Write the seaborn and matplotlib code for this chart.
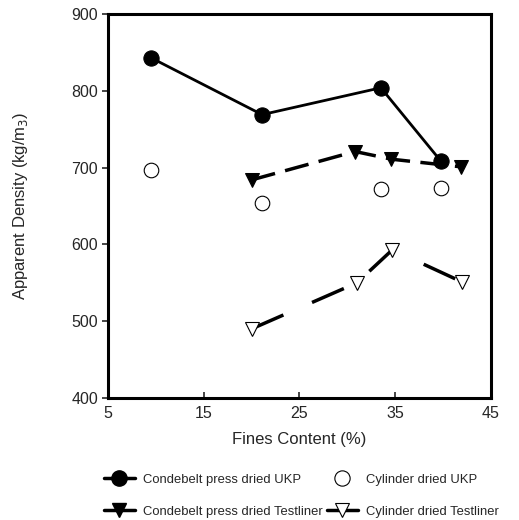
import matplotlib
matplotlib.use("Agg")
import matplotlib.pyplot as plt
import seaborn as sns
import pandas as pd
from matplotlib.lines import Line2D

sns.set_theme(style="white")
plt.rcParams['font.family'] = ['Liberation Sans', 'DejaVu Sans']

cb_ukp_x = [9.5, 21.1, 33.5, 39.8]
cb_ukp_y = [843, 769, 804, 708]
cy_ukp_x = [9.5, 21.1, 33.5, 39.8]
cy_ukp_y = [697, 654, 672, 674]
cb_tl_x = [20.0, 30.8, 34.6, 41.9]
cb_tl_y = [684, 721, 711, 701]
cy_tl_x = [20.0, 31.0, 34.7, 42.0]
cy_tl_y = [490, 550, 593, 551]

labels = ["Condebelt press dried UKP", "Cylinder dried UKP",
          "Condebelt press dried Testliner", "Cylinder dried Testliner"]
xticks = [5, 15, 25, 35, 45]
yticks = [400, 500, 600, 700, 800, 900]

fig = plt.figure(figsize=(5.19, 5.20), dpi=100)
ax = fig.add_axes([0.208, 0.2346, 0.738, 0.7384])

df1 = pd.DataFrame({"x": cb_ukp_x, "y": cb_ukp_y})
df2 = pd.DataFrame({"x": cy_ukp_x, "y": cy_ukp_y})
df3 = pd.DataFrame({"x": cb_tl_x, "y": cb_tl_y})
df4 = pd.DataFrame({"x": cy_tl_x, "y": cy_tl_y})

sns.lineplot(data=df1, x="x", y="y", ax=ax, color="black", lw=2, marker="o",
             markersize=11, markeredgecolor="black", sort=False, estimator=None)
sns.scatterplot(data=df2, x="x", y="y", ax=ax, marker="o", s=110,
                facecolor="white", edgecolor="black", linewidth=0.8, zorder=3)
sns.lineplot(data=df3, x="x", y="y", ax=ax, color="black", lw=2.5, marker="v",
             markersize=10, markeredgecolor="black", sort=False, estimator=None,
             dashes=(7, 3))
sns.lineplot(data=df4, x="x", y="y", ax=ax, color="black", lw=2.5, marker="v",
             markersize=10, markerfacecolor="white", markeredgecolor="black",
             markeredgewidth=0.8, sort=False, estimator=None, dashes=(10, 9))

ax.set_xlim(5, 45)
ax.set_ylim(400, 900)
ax.set_xticks(xticks)
ax.set_yticks(yticks)
ax.set_xticklabels([str(v) for v in xticks], fontsize=11.5)
ax.set_yticklabels([str(v) for v in yticks], fontsize=11.5)
ax.tick_params(axis="y", direction="out", length=4, width=1.2, left=True, pad=3)
ax.tick_params(axis="x", direction="in", length=4, width=1.2, bottom=True, pad=6)
for sp in ax.spines.values():
    sp.set_color("black")
    sp.set_linewidth(2.2)
ax.set_xlabel("Fines Content (%)", fontsize=12, labelpad=8)
ax.set_ylabel("Apparent Density (kg/m$_3$)", fontsize=12, labelpad=30)
ax.grid(False)

handles = [
    Line2D([], [], color="black", lw=2.5, marker="o", markersize=11),
    Line2D([], [], color="black", lw=2.5, marker="v", markersize=10),
    Line2D([], [], color="none", marker="o", markersize=11, markerfacecolor="white",
           markeredgecolor="black", markeredgewidth=0.8),
    Line2D([], [], color="black", lw=2.5, marker="v", markersize=10,
           markerfacecolor="white", markeredgecolor="black", markeredgewidth=0.8),
]
order_labels = [labels[0], labels[2], labels[1], labels[3]]
fig.legend(handles, order_labels, loc="upper left", bbox_to_anchor=(0.19, 0.099),
           ncol=2, frameon=False, fontsize=9.4, handlelength=2.4, columnspacing=0.3,
           handletextpad=0.6, labelspacing=1.5, borderaxespad=0)

fig.savefig("out.png", dpi=100, facecolor="white")
